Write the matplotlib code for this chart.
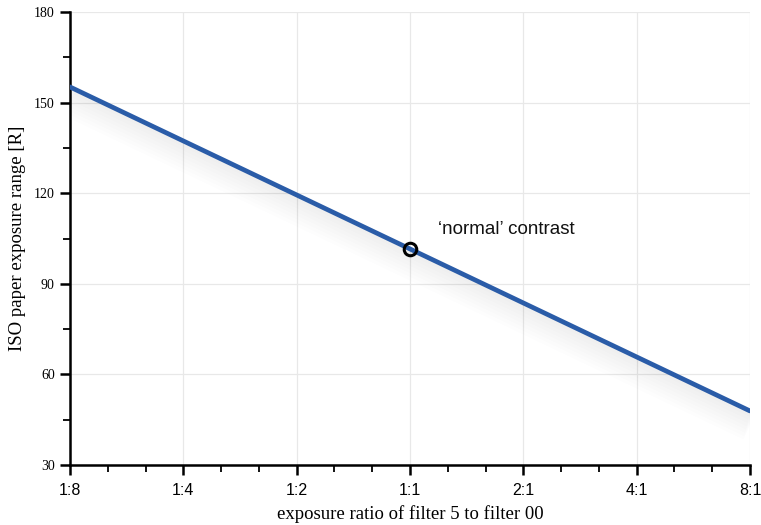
import numpy as np
import matplotlib as mpl
mpl.use("Agg")
import matplotlib.pyplot as plt
from matplotlib.ticker import FixedLocator, MultipleLocator

# exposure ratio in stops (log2): -3 = 1:8 ... +3 = 8:1
STOPS = [-3, 3]
ISO_R = [155.2, 47.9]
NORMAL_STOP, NORMAL_R = 0, 101.5
XTICK_LABELS = ["1:8", "1:4", "1:2", "1:1", "2:1", "4:1", "8:1"]
YTICKS = [30, 60, 90, 120, 150, 180]

LINE_C = "#2a5ca8"
SERIF = ["Liberation Serif", "DejaVu Serif"]
SANS = ["Liberation Sans", "DejaVu Sans"]

fig = plt.figure(figsize=(7.61, 5.25), dpi=100)
ax = fig.add_axes([0.092, 0.1143, 0.8935, 0.8627])

ax.set_xlim(-3, 3); ax.set_ylim(30, 180)
ax.grid(True, color="#e8e8e8", lw=0.9, zorder=0)
ax.set_axisbelow(True)

# faint, wide shadow under the line
for k in range(8):
    dy = 2.0 + 1.2 * k
    ax.plot(STOPS, ISO_R, color="#6a7480", lw=4 + 2.6 * k, alpha=0.011, solid_capstyle="butt",
            transform=ax.transData + mpl.transforms.ScaledTranslation(0, -dy / 72, fig.dpi_scale_trans),
            zorder=1)
ax.plot(STOPS, ISO_R, color=LINE_C, lw=3.4, solid_capstyle="round", zorder=3)
ax.plot([NORMAL_STOP], [NORMAL_R], "o", ms=9, mfc="none", mec="black", mew=2.2, zorder=4)
ax.text(NORMAL_STOP + 0.25, NORMAL_R + 6.5, "\u2018normal\u2019 contrast", fontsize=13.5,
        family=SANS, ha="left", va="center", color="#111")

for s in ["top", "right"]:
    ax.spines[s].set_visible(False)
ax.spines["left"].set_linewidth(1.8)
ax.spines["bottom"].set_linewidth(1.8)

ax.xaxis.set_major_locator(FixedLocator(range(-3, 4)))
ax.set_xticklabels(XTICK_LABELS, family=SANS, fontsize=11.5)
ax.xaxis.set_minor_locator(MultipleLocator(1 / 3))
ax.yaxis.set_major_locator(FixedLocator(YTICKS))
ax.set_yticklabels([str(v) for v in YTICKS], family=SERIF, fontsize=10)
ax.yaxis.set_minor_locator(MultipleLocator(15))
ax.tick_params(axis="both", which="major", length=7, width=1.8, color="black", pad=4)
ax.tick_params(axis="both", which="minor", length=5, width=1.3, color="black")
ax.tick_params(axis="x", which="major", pad=6)

ax.set_ylabel("ISO paper exposure range [R]", family=SERIF, fontsize=13.5, labelpad=6)
ax.set_xlabel("exposure ratio of filter 5 to filter 00", family=SERIF, fontsize=13.5, labelpad=5)

fig.savefig("out.png", dpi=100, facecolor="white")
